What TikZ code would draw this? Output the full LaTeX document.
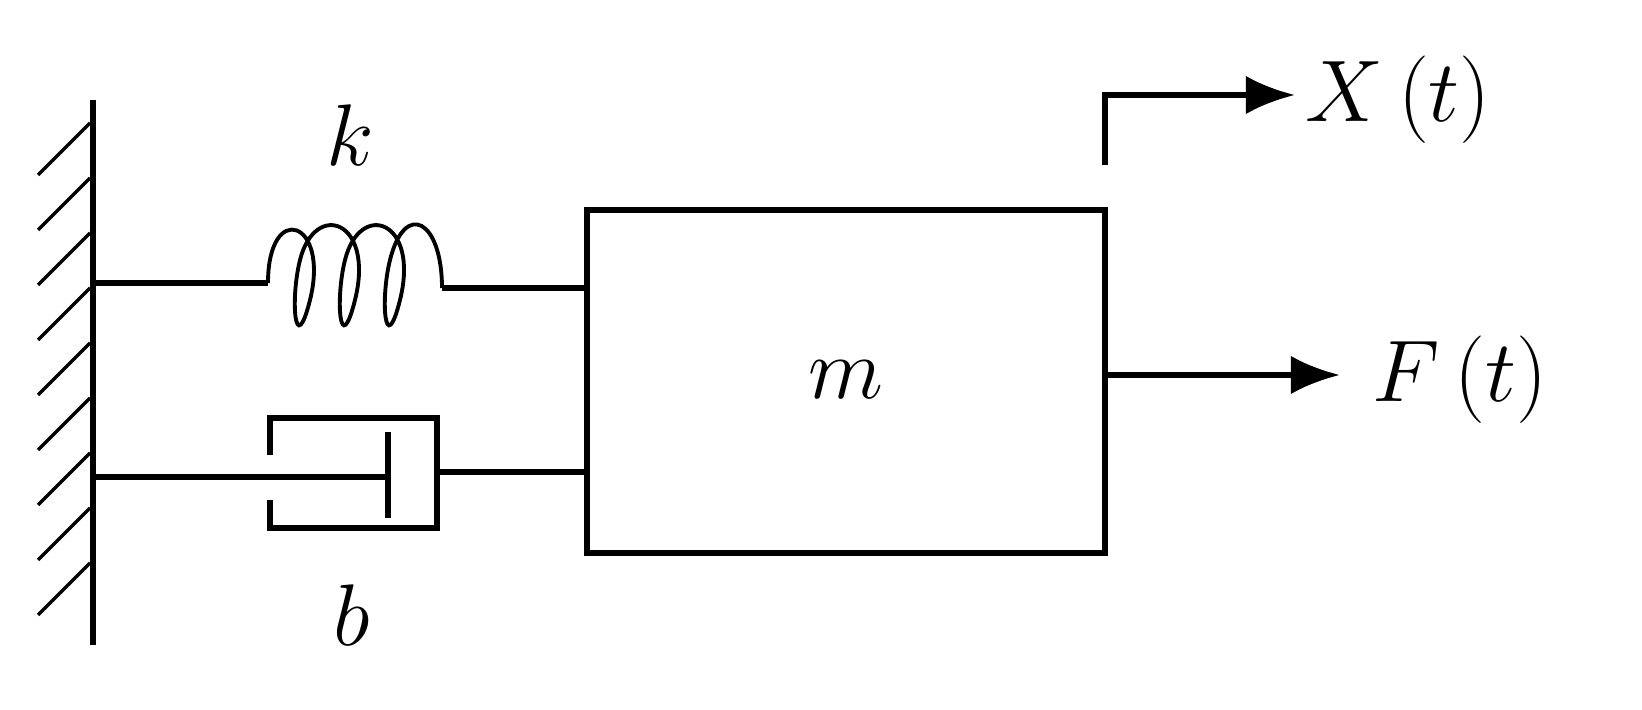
\documentclass[tikz,border=0pt]{standalone}
\usetikzlibrary{decorations.pathmorphing,arrows.meta}
\begin{document}
\begin{tikzpicture}[x=0.01cm,y=-0.01cm,
  ln/.style={line width=1.6pt},
  lbl/.style={font=\fontsize{28}{32}\selectfont},
  arr/.style={ln,-{Latex[length=14pt,width=11pt]}}]
\useasboundingbox (0,0) rectangle (1642,710);
% wall
\draw[ln] (93,100) -- (93,645);
\foreach \y in {120,175,...,600} \draw[line width=1pt] (38,\y+55) -- (90,\y+3);
% spring
\coordinate (s0) at (93,283);
\coordinate (s1) at (268,283);
\coordinate (s2) at (442,288);
\draw[ln] (s0) -- (s1);
\draw[line width=1.1pt] (268,283) .. controls (268,200) and (330,220) .. (310,300)
  .. controls (295,360) and (290,300) .. (300,260)
  .. controls (315,200) and (375,220) .. (355,300)
  .. controls (340,360) and (335,300) .. (345,260)
  .. controls (360,200) and (420,220) .. (400,300)
  .. controls (385,360) and (380,300) .. (390,260)
  .. controls (405,200) and (442,220) .. (442,288);
% damper
\draw[ln] (93,477) -- (388,477);
\draw[ln] (388,432) -- (388,518);
\draw[ln] (270,455) -- (270,418) -- (437,418) -- (437,528) -- (270,528) -- (270,500);
% mass
\node[draw,line width=1.6pt,minimum width=5.18cm,minimum height=3.43cm,inner sep=0] (m) at (846,381.5) {};
\node[lbl] at (846,380) {$m$};
\draw[ln] (s2) -- (m.west |- s2);
\draw[ln] (437,472) -- (m.west |- 0,472);
% X(t)
\coordinate (x0) at (1105,165);
\coordinate (x1) at (1105,95);
\coordinate (x2) at (1295,95);
\draw[arr] (x0) -- (x1) -- (x2);
\node[lbl,anchor=west] (X) at (1293,100) {$X\,(t)$};
% F(t)
\coordinate (f0) at (1105,375);
\coordinate (f1) at (1340,375);
\draw[arr] (f0) -- (f1);
\node[lbl,anchor=west] (F) at (1360,380) {$F\,(t)$};
\node[lbl] (k) at (350,135) {$k$};
\node[lbl] (b) at (352,615) {$b$};
\end{tikzpicture}
\end{document}
